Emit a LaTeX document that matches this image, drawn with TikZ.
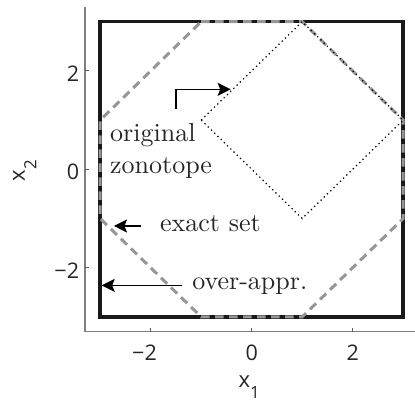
\documentclass[tikz,border=0pt]{standalone}
\usepackage{fontspec}
\newfontfamily\axfont{Open Sans}
\newfontfamily\cmfont{lmroman10-regular}[Extension=.otf]
\usetikzlibrary{arrows.meta}
\definecolor{axgray}{RGB}{128,128,128}
\definecolor{tickgray}{RGB}{90,90,90}
\definecolor{setgray}{RGB}{150,150,150}
\begin{document}
\begin{tikzpicture}[x=50.5pt,y=49.2pt,
  axisline/.style={draw=axgray, line width=1.4pt},
  tickline/.style={draw=tickgray, line width=1pt},
  ticklab/.style={font=\axfont\fontsize{21.5}{24}\selectfont, inner sep=0pt, text=black!85},
  axlab/.style={font=\axfont\fontsize{22}{24}\selectfont, inner sep=0pt, anchor=base west, text=black!85},
  note/.style={font=\cmfont\fontsize{26}{30}\selectfont, inner sep=0pt, anchor=base west, text=black!85},
  ptr/.style={line width=1.4pt, line join=miter, -{Stealth[length=13pt,width=13pt,inset=2.5pt]}},
  overset/.style={line width=3.5pt, line join=miter, draw=black!90},
  exactset/.style={line width=3pt, draw=setgray, dash pattern=on 8.5pt off 5.5pt},
  zono/.style={line width=1.2pt, draw=black, dash pattern=on 1.3pt off 3.2pt},
]
\useasboundingbox (-4.984,-4.709) rectangle (3.234,3.441);
% axes
\draw[axisline] (-3.3,3.3) -- (-3.3,-3.3) -- (3.3,-3.3);
\foreach \v in {-2,0,2} {
  \draw[tickline] (\v,-3.3) -- ++(0,3.5pt);
  \draw[tickline] (-3.3,\v) -- ++(3.5pt,0);
}
% tick labels
\node[ticklab, anchor=north east] (xm2) at (-1.875,-3.571) {−2};
\node[ticklab, anchor=north] (x0) at (0,-3.571) {0};
\node[ticklab, anchor=north] (x2) at (2,-3.571) {2};
\node[ticklab, anchor=east, yshift=-3pt] (ym2) at (-3.414,-2) {−2};
\node[ticklab, anchor=east, yshift=-3pt] (y0) at (-3.414,0) {0};
\node[ticklab, anchor=east, yshift=-3pt] (y2) at (-3.414,2) {2};
% axis labels
\node[axlab] (xlab) at (-0.265,-4.431) {x\raisebox{-11pt}{\fontsize{16.8}{18}\selectfont 1}};
\node[axlab, rotate=90] (ylab) at (-4.489,-0.252) {x\raisebox{-11.5pt}{\fontsize{16.8}{18}\selectfont 2}};
% sets
\draw[overset] (-3,3) -- (3,3) -- (3,-3) -- (-3,-3) -- cycle;
\draw[exactset] (-1,3) -- (1,3) -- (3,1) -- (3,-1) -- (1,-3) -- (-1,-3) -- (-3,-1) -- (-3,1) -- cycle;
\draw[zono] (-1,1) -- (1,3) -- (3,1) -- (1,-1) -- cycle;
% notes
\node[note] (orig) at (-2.806,0.555) {original};
\node[note] (zono) at (-2.806,-0.081) {zonotope};
\node[note] (exact) at (-1.816,-1.274) {exact set};
\node[note] (over) at (-1.18,-2.453) {over-appr.};
% pointers
\coordinate (a1s) at (-1.5,1.226);
\coordinate (a1t) at (-0.416,1.626);
\coordinate (a2s) at (-2.2,-1.152);
\coordinate (a2t) at (-2.727,-1.152);
\coordinate (a3s) at (-1.386,-2.36);
\coordinate (a3t) at (-2.97,-2.36);
\draw[ptr] (a1s) |- (a1t);
\draw[ptr] (a2s) -- (a2t);
\draw[ptr] (a3s) -- (a3t);
\end{tikzpicture}
\end{document}
